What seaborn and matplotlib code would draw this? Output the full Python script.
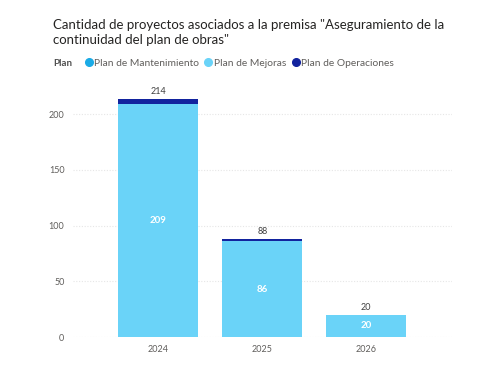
import matplotlib
matplotlib.use("Agg")
import matplotlib.pyplot as plt
import seaborn as sns
import pandas as pd
from matplotlib.lines import Line2D

# Datos
anios = ["2024", "2025", "2026"]
mantenimiento = [0, 0, 0]
mejoras = [209, 86, 20]
operaciones = [5, 2, 0]
series = ["Plan de Mantenimiento", "Plan de Mejoras", "Plan de Operaciones"]
colores = ["#1AABE6", "#6AD3F8", "#12239E"]

df = pd.DataFrame({
    "anio": anios,
    "mant": mantenimiento,
    "mej": mejoras,
    "ope": operaciones,
})
df["c1"] = df["mant"]
df["c2"] = df["c1"] + df["mej"]
df["total"] = df["c2"] + df["ope"]

sns.set_style("white")
plt.rcParams["font.family"] = ["Lato", "DejaVu Sans"]

fig = plt.figure(figsize=(5.02, 3.73), dpi=100)
ax = fig.add_axes([0.145, 0.0965, 0.755, 0.657])

# Barras apiladas: se dibuja el acumulado de arriba hacia abajo
for col, color in [("total", colores[2]), ("c2", colores[1]), ("c1", colores[0])]:
    sns.barplot(data=df, x="anio", y=col, color=color, width=0.77,
                saturation=1, ax=ax, zorder=3, edgecolor="none")

ax.set_xlim(-0.822, 2.822)
ax.set_ylim(0, 220)
ax.set_yticks([0, 50, 100, 150, 200])
ax.set_xlabel("")
ax.set_ylabel("")
ax.grid(axis="y", color="#E6E6E6", linestyle=(0, (1, 1.5)), linewidth=0.8, zorder=0)
for s in ax.spines.values():
    s.set_visible(False)
ax.tick_params(axis="both", length=0, labelsize=6.5, colors="#605E5C", pad=6)

# Etiquetas de datos
for i, row in df.iterrows():
    ax.text(i, row["total"] + 2.5, str(row["total"]), ha="center", va="bottom",
            fontsize=6.5, color="#404040")
    if row["mej"] > 0:
        ax.text(i, row["c1"] + row["mej"] / 2, str(row["mej"]), ha="center",
                va="center", fontsize=7, color="white", fontweight="bold")

fig.text(0.106, 0.948, "Cantidad de proyectos asociados a la premisa \"Aseguramiento de la\n"
         "continuidad del plan de obras\"", ha="left", va="top", fontsize=9.5,
         color="#252423", linespacing=1.3)

fig.text(0.106, 0.831, "Plan", ha="left", va="center", fontsize=7,
         fontweight="bold", color="#505050")
handles = [Line2D([], [], marker="o", linestyle="", markersize=5.5, color=c) for c in colores]
fig.legend(handles, series, loc="center left", bbox_to_anchor=(0.158, 0.831), ncol=3,
           frameon=False, fontsize=7.4, handletextpad=0.0, columnspacing=0.45,
           handlelength=1.0, borderaxespad=0, labelcolor="#605E5C")

fig.savefig("out.png", dpi=100)
